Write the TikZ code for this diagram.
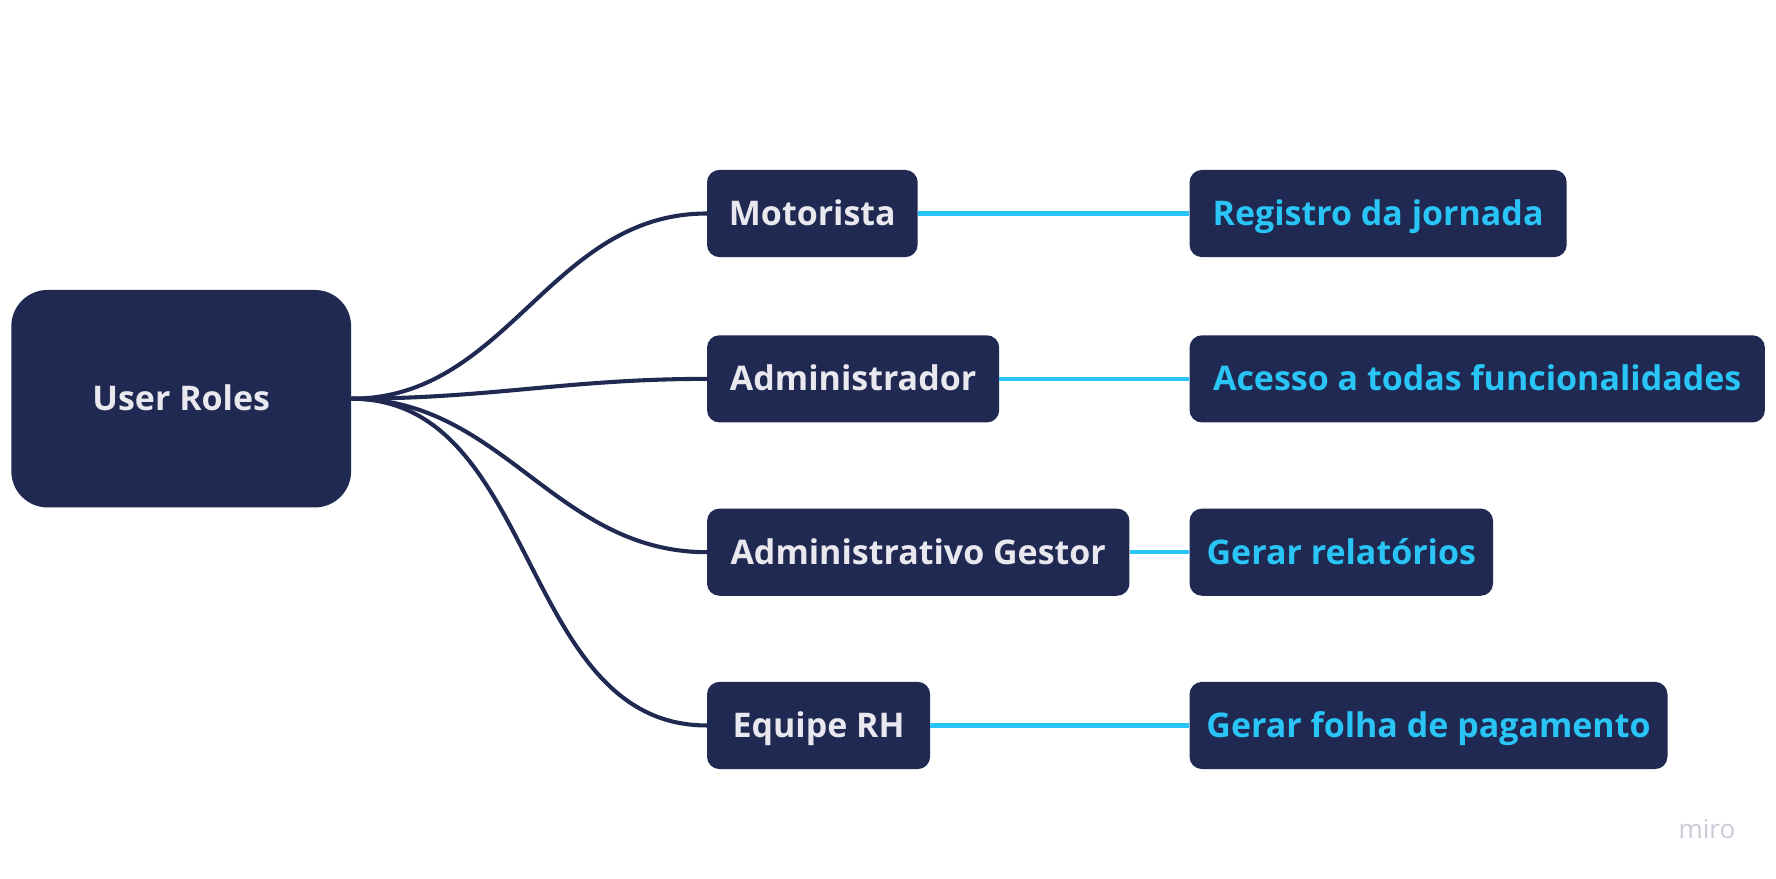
\documentclass[tikz,border=0pt]{standalone}
\usepackage{fontspec}
\setmainfont{Open Sans}
\usepackage{xcolor}

\definecolor{navy}{RGB}{31,41,81}
\definecolor{roletext}{RGB}{232,232,238}
\definecolor{cyanline}{RGB}{41,197,246}
\definecolor{mirogray}{RGB}{200,202,214}

\begin{document}
\begin{tikzpicture}[x=1pt,y=-1pt,
	rolebox/.style={fill=navy,rounded corners=11pt,minimum height=77pt,inner xsep=0pt,anchor=west,
		text=roletext,font=\fontsize{30}{36}\selectfont\bfseries,text height=28.5pt,text depth=7.1pt},
	taskbox/.style={rolebox,text=cyanline},
	branch/.style={line width=3.6pt,navy},
	link/.style={line width=3.8pt,cyanline}]
		\useasboundingbox (0,0) rectangle (1568,776);

		% Root
		\node[rolebox,anchor=center,rounded corners=32pt,minimum width=300pt,minimum height=192pt] (roles) at (160,352) {User Roles};

		% Roles
		\node[rolebox,minimum width=186pt] (mot) at (624,188.5) {Motorista};
		\node[rolebox,minimum width=258pt] (adm) at (624,334.5) {Administrador};
		\node[rolebox,minimum width=373pt] (ges) at (624,487.5) {Administrativo Gestor};
		\node[rolebox,minimum width=197pt] (rh) at (624,640.5) {Equipe RH};

		% Tasks
		\node[taskbox,minimum width=333pt] (reg) at (1050,188.5) {Registro da jornada};
		\node[taskbox,minimum width=508pt] (acc) at (1050,334.5) {Acesso a todas funcionalidades};
		\node[taskbox,minimum width=268pt] (rel) at (1050,487.5) {Gerar relatórios};
		\node[taskbox,minimum width=422pt] (fol) at (1050,640.5) {Gerar folha de pagamento};

		% Branches
		\draw[branch] (roles.east) to[out=0,in=180] (mot.west);
		\draw[branch] (roles.east) to[out=0,in=180] (adm.west);
		\draw[branch] (roles.east) to[out=0,in=180] (ges.west);
		\draw[branch] (roles.east) to[out=0,in=180] (rh.west);

		% Links
		\draw[link] (mot.east) -- (reg.west);
		\draw[link] (adm.east) -- (acc.west);
		\draw[link] (ges.east) -- (rel.west);
		\draw[link] (rh.east) -- (fol.west);

		\node[text=mirogray,font=\fontsize{23}{26}\selectfont] (miro) at (1507,732) {miro};
\end{tikzpicture}
\end{document}
